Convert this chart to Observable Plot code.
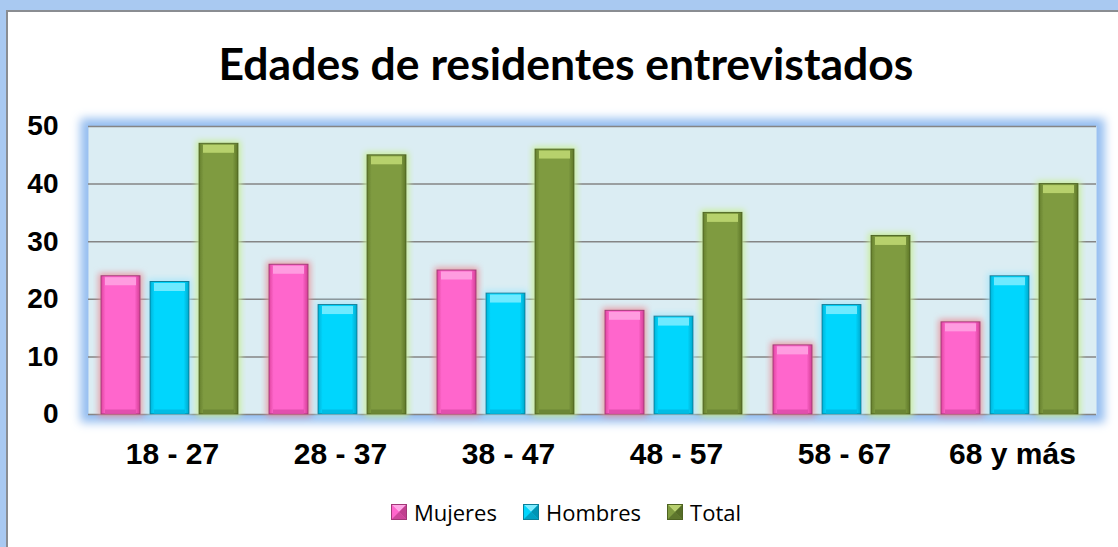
<!DOCTYPE html>
<html>
<head>
<meta charset="utf-8">
<script src="https://cdn.jsdelivr.net/npm/d3@7"></script>
<script src="https://cdn.jsdelivr.net/npm/@observablehq/plot@0.6"></script>
<style>
  html, body { margin: 0; padding: 0; background: #fff; }
  #page { position: absolute; left: 0; top: 0; width: 1118px; height: 547px; background: #a9c9f1; overflow: hidden; }
  #inner { position: absolute; left: 6px; top: 10px; right: 0; bottom: 0; background: #fff;
           border-top: 2px solid #8a8d92; border-left: 2px solid #8a8d92; }
  #title { position: absolute; left: 0; width: 1132px; top: 41px; text-align: center;
           font-family: Lato, sans-serif; font-weight: bold; font-size: 44.5px; line-height: 44px; color: #000; }
  #chart { position: absolute; left: 0; top: 90px; }
  #chart svg { overflow: visible; }
  #legend { position: absolute; left: 0; width: 1132px; top: 497px; height: 30px; display: flex;
            justify-content: center; align-items: center; font-family: "Open Sans", sans-serif; font-size: 22px; color: #000; }
  .item { display: flex; align-items: center; margin: 0 13px; }
  .item svg { margin-right: 7px; }
</style>
</head>
<body>
<svg width="0" height="0" style="position:absolute">
  <defs>
    <linearGradient id="gPink" x1="0" x2="1" y1="0" y2="0">
      <stop offset="0" stop-color="#e0469f"/><stop offset="0.12" stop-color="#ff66cc"/>
      <stop offset="0.86" stop-color="#ff66cc"/><stop offset="1" stop-color="#d43d94"/>
    </linearGradient>
    <linearGradient id="gCyan" x1="0" x2="1" y1="0" y2="0">
      <stop offset="0" stop-color="#00b2d8"/><stop offset="0.12" stop-color="#00d6fd"/>
      <stop offset="0.86" stop-color="#00d6fd"/><stop offset="1" stop-color="#00a8cc"/>
    </linearGradient>
    <linearGradient id="gGreen" x1="0" x2="1" y1="0" y2="0">
      <stop offset="0" stop-color="#657f2e"/><stop offset="0.12" stop-color="#7f9b40"/>
      <stop offset="0.86" stop-color="#7f9b40"/><stop offset="1" stop-color="#5d7628"/>
    </linearGradient>
    <filter id="glowPink" x="-20%" y="-20%" width="140%" height="140%">
      <feMorphology in="SourceAlpha" operator="dilate" radius="2" result="d"/>
      <feGaussianBlur in="d" stdDeviation="3" result="b"/>
      <feFlood flood-color="#e8959e" flood-opacity="0.9"/>
      <feComposite in2="b" operator="in" result="glow"/>
      <feMerge><feMergeNode in="glow"/><feMergeNode in="SourceGraphic"/></feMerge>
    </filter>
    <filter id="glowCyan" x="-20%" y="-20%" width="140%" height="140%">
      <feMorphology in="SourceAlpha" operator="dilate" radius="2" result="d"/>
      <feGaussianBlur in="d" stdDeviation="3" result="b"/>
      <feFlood flood-color="#a8e6fa" flood-opacity="0.9"/>
      <feComposite in2="b" operator="in" result="glow"/>
      <feMerge><feMergeNode in="glow"/><feMergeNode in="SourceGraphic"/></feMerge>
    </filter>
    <filter id="glowGreen" x="-20%" y="-20%" width="140%" height="140%">
      <feMorphology in="SourceAlpha" operator="dilate" radius="2" result="d"/>
      <feGaussianBlur in="d" stdDeviation="3" result="b"/>
      <feFlood flood-color="#c9ee96" flood-opacity="0.95"/>
      <feComposite in2="b" operator="in" result="glow"/>
      <feMerge><feMergeNode in="glow"/><feMergeNode in="SourceGraphic"/></feMerge>
    </filter>
    <filter id="glowBlue" filterUnits="userSpaceOnUse" x="0" y="0" width="1118" height="390">
      <feMorphology in="SourceAlpha" operator="dilate" radius="8" result="d"/>
      <feGaussianBlur in="d" stdDeviation="5" result="b"/>
      <feFlood flood-color="#94bdf0" flood-opacity="1"/>
      <feComposite in2="b" operator="in" result="glow"/>
      <feMerge><feMergeNode in="glow"/><feMergeNode in="SourceGraphic"/></feMerge>
    </filter>
  </defs>
</svg>
<div id="page"><div id="inner"></div></div>
<div id="title">Edades de residentes entrevistados</div>
<div id="chart"></div>
<div id="legend"></div>
<script>
// ---- data ----
const categories = ["18 - 27", "28 - 37", "38 - 47", "48 - 57", "58 - 67", "68 y más"];
const series = ["Mujeres", "Hombres", "Total"];
const mujeres = [24, 26, 25, 18, 12, 16];
const hombres = [23, 19, 21, 17, 19, 24];
const total = [47, 45, 46, 35, 31, 40];
const yTicks = [0, 10, 20, 30, 40, 50];

// ---- styles ----
const styles = {
  Mujeres: {fill: "url(#gPink)", stroke: "#a23878", cap: "#ff9ce0", bottom: "#e24fae", glow: "glowPink", base: "#ff66cc", light: "#ffa8e6", dark: "#c0408f"},
  Hombres: {fill: "url(#gCyan)", stroke: "#0b7f98", cap: "#6eeaff", bottom: "#00bde4", glow: "glowCyan", base: "#00d6fd", light: "#80ecff", dark: "#0094b4"},
  Total:   {fill: "url(#gGreen)", stroke: "#4e6322", cap: "#b7d16c", bottom: "#6c8635", glow: "glowGreen", base: "#7f9b40", light: "#b8d070", dark: "#566d28"}
};

const rows = categories.flatMap((c, i) => [
  {cat: c, serie: "Mujeres", value: mujeres[i]},
  {cat: c, serie: "Hombres", value: hombres[i]},
  {cat: c, serie: "Total", value: total[i]}
]);

const withFilter = id => (index, scales, values, dims, context, next) => {
  const g = next(index, scales, values, dims, context);
  if (g) g.setAttribute("filter", `url(#${id})`);
  return g;
};

const barMarks = series.flatMap(s => {
  const st = styles[s];
  const data = rows.filter(d => d.serie === s);
  return [
    Plot.barY(data, {fx: "cat", x: "serie", y: "value", fill: st.fill, stroke: st.stroke, strokeWidth: 1, render: withFilter(st.glow)}),
    Plot.tickY(data, {fx: "cat", x: "serie", y: "value", dy: 5, stroke: st.cap, strokeWidth: 8, insetLeft: 4, insetRight: 4}),
    Plot.tickY(data, {fx: "cat", x: "serie", y: 0, dy: -3, stroke: st.bottom, strokeWidth: 4, insetLeft: 4, insetRight: 4})
  ];
});

const chart = Plot.plot({
  width: 1118,
  height: 390,
  marginLeft: 88,
  marginRight: 22,
  marginTop: 36,
  marginBottom: 66,
  style: {fontFamily: "'Liberation Sans', Arial, sans-serif", color: "#000", background: "transparent"},
  fx: {domain: categories, padding: 0, label: null, axis: null},
  x: {domain: series, paddingInner: 0.21, paddingOuter: 0.3, align: 0.4, axis: null},
  y: {domain: [0, 50], axis: null},
  marks: [
    Plot.frame({fill: "#dbedf3", facet: "super", render: withFilter("glowBlue")}),
    Plot.gridY(yTicks.filter(t => t > 0), {stroke: "#858585", strokeOpacity: 1, strokeWidth: 1.5}),
    Plot.ruleY([0], {stroke: "#858585", strokeWidth: 1.5}),
    ...barMarks,
    Plot.axisY(yTicks, {tickSize: 0, tickPadding: 30, fontSize: 28, fontWeight: "bold", label: null}),
    Plot.axisFx({anchor: "bottom", tickSize: 0, tickPadding: 28, fontSize: 30, fontWeight: "bold", label: null})
  ]
});
document.getElementById("chart").appendChild(chart);

// ---- legend ----
const legend = d3.select("#legend");
series.forEach(s => {
  const st = styles[s];
  const item = legend.append("div").attr("class", "item");
  const sv = item.append("svg").attr("width", 16).attr("height", 16);
  sv.append("rect").attr("width", 16).attr("height", 16).attr("fill", st.base);
  sv.append("path").attr("d", "M0,0L16,0L8,8Z").attr("fill", st.light);
  sv.append("path").attr("d", "M0,0L0,16L8,8Z").attr("fill", st.base);
  sv.append("path").attr("d", "M16,0L16,16L8,8Z").attr("fill", st.dark);
  sv.append("path").attr("d", "M0,16L16,16L8,8Z").attr("fill", st.dark).attr("opacity", 0.8);
  sv.append("rect").attr("x", 0.5).attr("y", 0.5).attr("width", 15).attr("height", 15).attr("fill", "none").attr("stroke", st.stroke);
  item.append("span").text(s);
});
</script>
</body>
</html>
